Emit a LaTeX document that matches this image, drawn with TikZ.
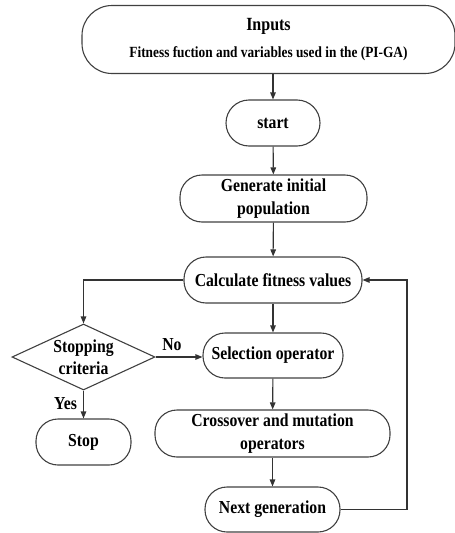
\documentclass[tikz,border=0pt]{standalone}
\usepackage{fontspec}
\setmainfont{Liberation Serif}[FakeStretch=0.86]
\usetikzlibrary{arrows.meta,shapes.geometric}
\begin{document}
\begin{tikzpicture}[x=1pt,y=-1pt,
  line width=1pt, draw=black!80,
  box/.style={draw=black!75, line width=1.1pt, rounded corners=#1, align=center,
    font=\bfseries\fontsize{18.3}{22.5}\selectfont, inner sep=0pt},
  box/.default=20pt,
  arr/.style={draw=black!80, line width=1.1pt, -{Triangle[length=7pt,width=5.5pt]}},
  lbl/.style={font=\bfseries\fontsize{18.3}{22.5}\selectfont, inner sep=0pt}]
\useasboundingbox (0,0) rectangle (455,533);
\node[box=30pt, minimum width=373pt, minimum height=68pt] (inputs) at (268.5,39.5)
  {{\fontsize{18.6}{20}\selectfont Inputs}\\[4pt]{\fontsize{15.5}{16}\selectfont Fitness fuction and variables used in the (PI-GA)}};
\node[box=23pt, minimum width=94pt, minimum height=46pt] (start) at (273,123) {start};
\node[box=22pt, minimum width=187pt, minimum height=47pt] (gen) at (273.5,198.5) {Generate initial\\population};
\node[box=22pt, minimum width=178pt, minimum height=46pt] (calc) at (273,280) {Calculate fitness values};
\node[draw=black!75, line width=1.1pt, diamond, aspect=2.15, minimum width=143pt, minimum height=66pt,
  inner sep=0pt, align=center, font=\bfseries\fontsize{18.3}{22.5}\selectfont] (stop?) at (83.5,357) {Stopping\\criteria};
\node[box=22pt, minimum width=140pt, minimum height=45pt] (sel) at (273,355.5) {Selection operator};
\node[box=22pt, minimum width=235pt, minimum height=47pt] (cross) at (272.5,433.5) {Crossover and mutation\\operators};
\node[box=22pt, minimum width=135pt, minimum height=45pt] (next) at (272.5,509.5) {Next generation};
\node[box=22pt, minimum width=95pt, minimum height=46pt] (stop) at (83.5,442) {Stop};
\coordinate (fb) at (407,280);
\draw[arr] (inputs.south -| start.north) -- (start.north);
\draw[arr] (start) -- (gen);
\draw[arr] (gen) -- (calc);
\draw[arr] (calc) -- (sel);
\draw[arr] (sel) -- (cross);
\draw[arr] (cross) -- (next);
\draw[arr] (calc.west) -| (stop?.north);
\draw[arr] (stop?.east) -- node[lbl, above=6pt, pos=0.35] (no) {No} (stop?.east -| sel.west);
\draw[arr] (stop?.south) -- node[lbl, left=6pt, pos=0.45] (yes) {Yes} (stop.north);
\draw[arr] (next.east) -| (fb) -- (calc.east);
\end{tikzpicture}
\end{document}
